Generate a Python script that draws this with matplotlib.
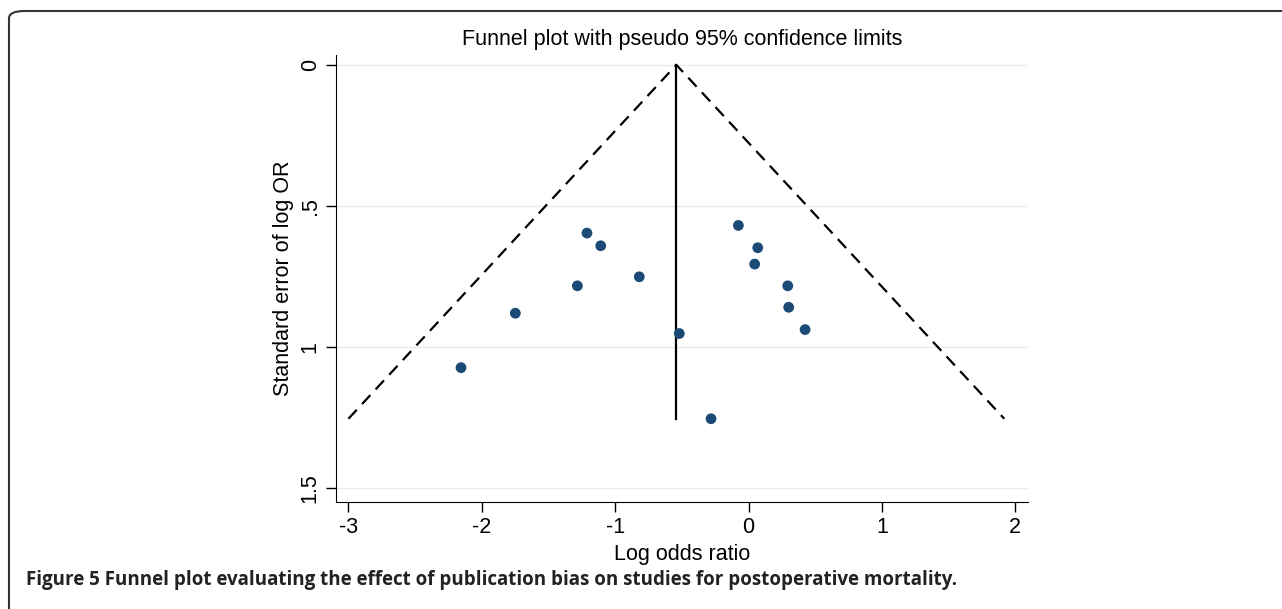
import matplotlib.pyplot as plt
import numpy as np
from matplotlib.patches import FancyBboxPatch

# study estimates (log OR) and standard errors
log_or = [-2.155, -1.748, -1.283, -1.211, -1.108, -0.819, -0.519, -0.281,
          -0.076, 0.069, 0.046, 0.294, 0.301, 0.424]
se = [1.073, 0.880, 0.783, 0.596, 0.641, 0.751, 0.952, 1.254,
      0.569, 0.648, 0.706, 0.783, 0.859, 0.938]
pooled = -0.541
xticks = [-3, -2, -1, 0, 1, 2]
yticks = [0, 0.5, 1, 1.5]
ytick_labels = ['0', '.5', '1', '1.5']

plt.rcParams['font.family'] = ['Liberation Sans', 'DejaVu Sans']

fig = plt.figure(figsize=(12.82, 6.09), dpi=100)
ax = fig.add_axes([0.2621, 0.1757, 0.5398, 0.734])

se_max = max(se)
ax.plot([pooled - 1.96 * se_max, pooled, pooled + 1.96 * se_max], [se_max, 0, se_max],
        linestyle=(0, (5.5, 3.5)), color='black', lw=1.6)
ax.plot([pooled, pooled], [0, se_max], color='black', lw=1.6)
ax.scatter(log_or, se, s=60, color='#1a4a75', zorder=3, edgecolors='none')

for y in yticks:
    ax.axhline(y, color='#e3eef2', lw=1, zorder=0)

ax.set_xlim(-3.092, 2.095)
ax.set_ylim(1.549, -0.035)
ax.set_xticks(xticks)
ax.set_xticklabels([str(t) for t in xticks])
ax.set_yticks(yticks)
ax.set_yticklabels(ytick_labels, rotation=90, va='center')
ax.tick_params(labelsize=15.5, length=7, width=1, color='black', pad=4)
ax.spines['top'].set_visible(False)
ax.spines['right'].set_visible(False)
ax.set_xlabel('Log odds ratio', fontsize=15.5, labelpad=4)
ax.set_ylabel('Standard error of log OR', fontsize=15.5, labelpad=4)
ax.set_title('Funnel plot with pseudo 95% confidence limits', fontsize=15.5, pad=7)

fig.text(26 / 1282, 1 - 580 / 609, 'Figure 5 Funnel plot evaluating the effect of publication bias on studies for postoperative mortality.',
         fontsize=13.5, fontweight='bold', family=['Open Sans', 'DejaVu Sans'], color='#222222', va='center')

border = FancyBboxPatch((9 / 1282, -0.1), 1.1, 1 - 11 / 609 + 0.1,
                        boxstyle='round,pad=0,rounding_size=0.012', transform=fig.transFigure,
                        facecolor='none', edgecolor='#333333', lw=1.5, clip_on=False)
fig.patches.append(border)

fig.savefig('out.png', dpi=100)
